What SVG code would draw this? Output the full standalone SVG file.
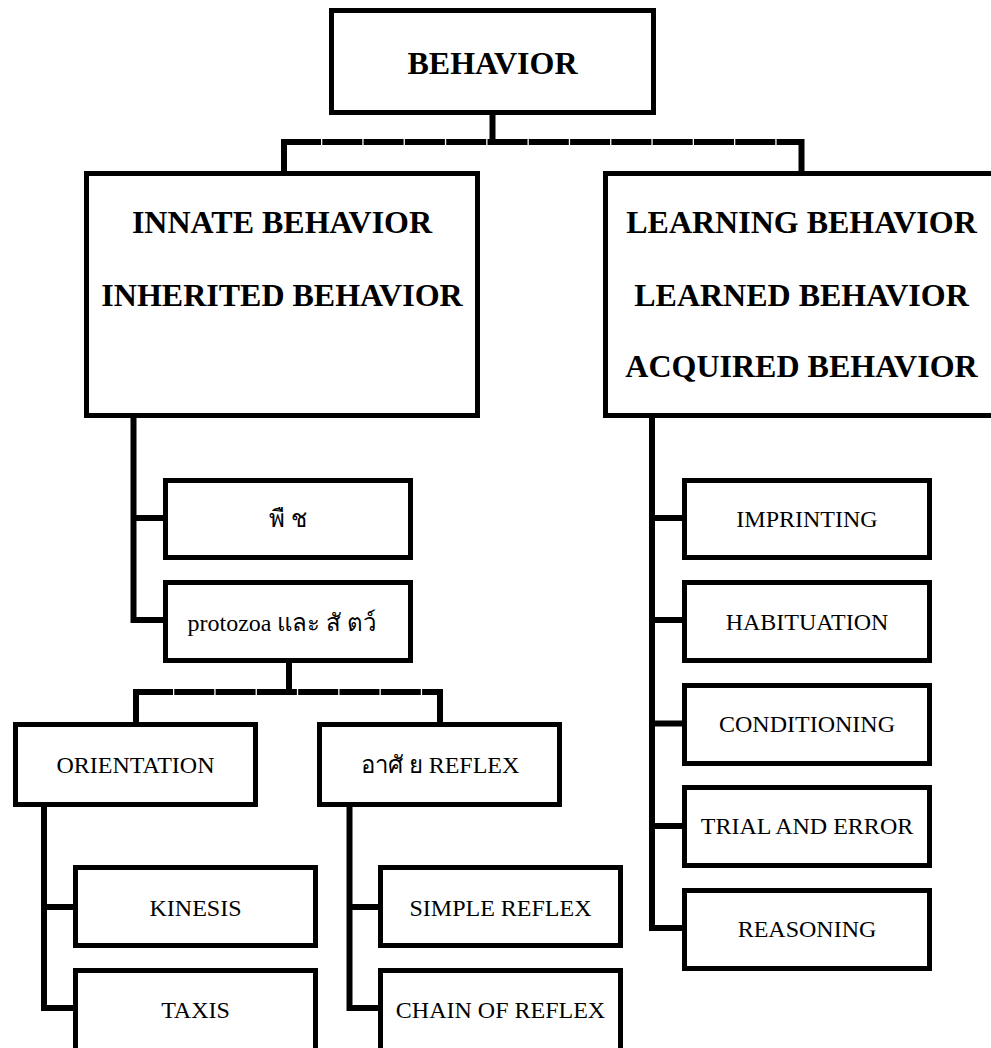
<svg xmlns="http://www.w3.org/2000/svg" width="991" height="1048" viewBox="0 0 991 1048">
<style>
.box{fill:#fff;stroke:#000;stroke-width:5}
.ln{fill:none;stroke:#000;stroke-width:6;stroke-linejoin:miter}
.dash{fill:none;stroke:#000;stroke-width:6;stroke-dasharray:40 1.3}
.big{font-family:"Liberation Serif","Times New Roman",serif;font-weight:bold;font-size:32px;text-anchor:middle;fill:#000}
.sm{font-family:"Liberation Serif","Times New Roman","DejaVu Serif",serif;font-size:24px;text-anchor:middle;fill:#000}
</style>
<rect width="991" height="1048" fill="#fff"/>
<g id="connectors">
<path class="ln" d="M492.5,115 V142"/>
<path class="dash" d="M281,142 H804"/>
<path class="ln" d="M284,139 V173"/>
<path class="ln" d="M801.5,139 V173"/>
<path class="ln" d="M133.5,418 V620 H165"/>
<path class="ln" d="M133.5,518 H165"/>
<path class="ln" d="M289,663 V692"/>
<path class="dash" d="M133,692 H443"/>
<path class="ln" d="M136,689 V722"/>
<path class="ln" d="M440,689 V722"/>
<path class="ln" d="M44,807 V1008 H75"/>
<path class="ln" d="M44,907 H75"/>
<path class="ln" d="M349.5,807 V1008 H380"/>
<path class="ln" d="M349.5,907 H380"/>
<path class="ln" d="M652,418 V928 H684"/>
<path class="ln" d="M652,518 H684"/>
<path class="ln" d="M652,620 H684"/>
<path class="ln" d="M652,723.5 H684"/>
<path class="ln" d="M652,826 H684"/>
</g>
<g id="behavior"><rect class="box" x="331.5" y="10.5" width="322" height="102"/><text class="big" x="492.5" y="74">BEHAVIOR</text></g>
<g id="innate"><rect class="box" x="86.5" y="173.5" width="391" height="242"/><text class="big" x="282" y="233">INNATE BEHAVIOR</text><text class="big" x="282" y="306">INHERITED BEHAVIOR</text></g>
<g id="learning"><rect class="box" x="605.5" y="173.5" width="392" height="242"/><text class="big" x="801.5" y="233">LEARNING BEHAVIOR</text><text class="big" x="801.5" y="306">LEARNED BEHAVIOR</text><text class="big" x="801.5" y="377">ACQUIRED BEHAVIOR</text></g>
<g id="plant"><rect class="box" x="165.5" y="480.5" width="245" height="77"/><text class="sm" x="288" y="527">พื ช</text></g>
<g id="protozoa"><rect class="box" x="165.5" y="582.5" width="245" height="78"/><text class="sm" x="282" y="631">protozoa และ สั ตว์</text></g>
<g id="orientation"><rect class="box" x="15.5" y="724.5" width="240" height="80"/><text class="sm" x="135.5" y="773">ORIENTATION</text></g>
<g id="reflex"><rect class="box" x="319.5" y="724.5" width="240" height="80"/><text class="sm" x="440" y="773">อาศั ย REFLEX</text></g>
<g id="kinesis"><rect class="box" x="75.5" y="867.5" width="240" height="78"/><text class="sm" x="195.5" y="916">KINESIS</text></g>
<g id="taxis"><rect class="box" x="75.5" y="970.5" width="240" height="85"/><text class="sm" x="195.5" y="1018">TAXIS</text></g>
<g id="simple-reflex"><rect class="box" x="380.5" y="867.5" width="240" height="78"/><text class="sm" x="500.5" y="916">SIMPLE REFLEX</text></g>
<g id="chain-reflex"><rect class="box" x="380.5" y="970.5" width="240" height="85"/><text class="sm" x="500.5" y="1018">CHAIN OF REFLEX</text></g>
<g id="imprinting"><rect class="box" x="684.5" y="480.5" width="245" height="77"/><text class="sm" x="807" y="527">IMPRINTING</text></g>
<g id="habituation"><rect class="box" x="684.5" y="582.5" width="245" height="78"/><text class="sm" x="807" y="630">HABITUATION</text></g>
<g id="conditioning"><rect class="box" x="684.5" y="685.5" width="245" height="78"/><text class="sm" x="807" y="732">CONDITIONING</text></g>
<g id="trial"><rect class="box" x="684.5" y="787.5" width="245" height="78"/><text class="sm" x="807" y="834">TRIAL AND ERROR</text></g>
<g id="reasoning"><rect class="box" x="684.5" y="890.5" width="245" height="78"/><text class="sm" x="807" y="937">REASONING</text></g>
</svg>
